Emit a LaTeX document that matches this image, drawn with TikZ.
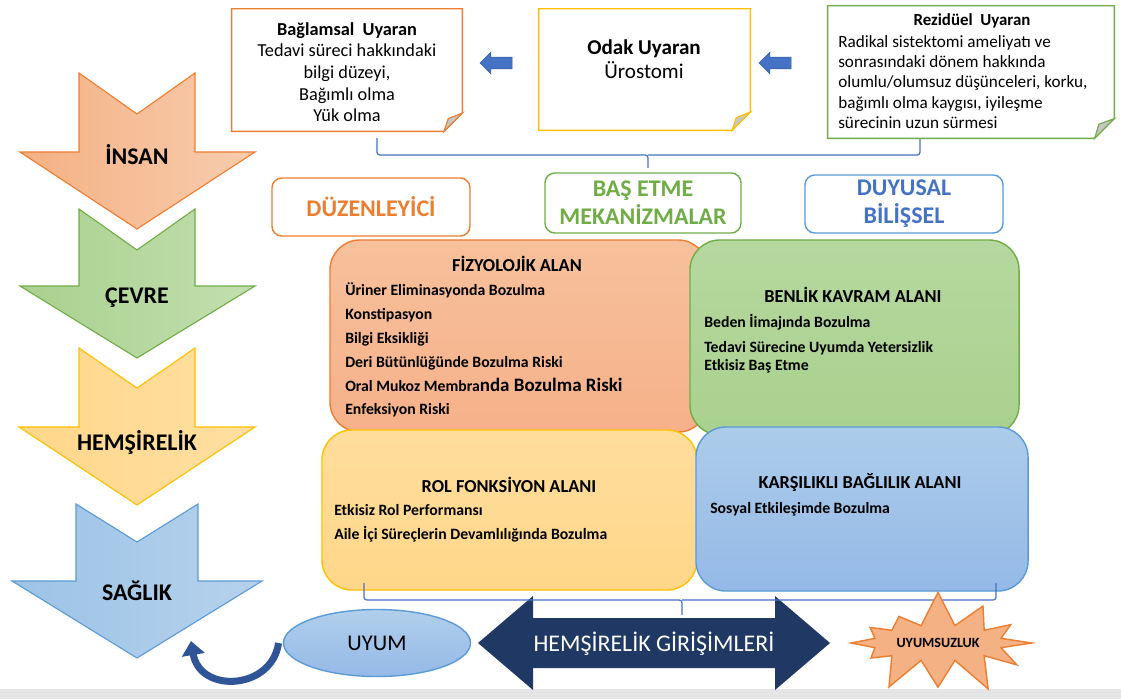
\documentclass[tikz,border=0pt]{standalone}
\usepackage{fontspec}
\setmainfont{Carlito}
\usetikzlibrary{shapes.geometric,shapes.symbols,shapes.arrows,arrows.meta}

\definecolor{orline}{HTML}{ED7D31}
\definecolor{orfill}{HTML}{F4B183}
\definecolor{grline}{HTML}{70AD47}
\definecolor{grfill}{HTML}{A9D18E}
\definecolor{yeline}{HTML}{FFC000}
\definecolor{yefill}{HTML}{FFD78A}
\definecolor{blline}{HTML}{5B9BD5}
\definecolor{blfill}{HTML}{9DC3E6}
\definecolor{navy}{HTML}{203864}
\definecolor{arrblue}{HTML}{4472C4}
\definecolor{curvblue}{HTML}{2F5597}

\begin{document}
\begin{tikzpicture}[x=0.025cm,y=-0.025cm,
  chev/.style={line width=0.8pt},
  chevtext/.style={font=\fontsize{17}{20}\selectfont\bfseries},
  notebox/.style={fill=white, inner sep=0pt},
  notetext/.style={align=center, inner sep=0pt},
  labelbox/.style={draw, fill=white, rounded corners=7pt, line width=1pt, align=center,
    font=\fontsize{17}{20}\selectfont\bfseries},
  quad/.style={rounded corners=0.75cm, line width=1pt},
  quadtitle/.style={font=\fontsize{13}{15}\selectfont\bfseries},
  quadlist/.style={anchor=west, align=left, inner sep=0pt, font=\fontsize{11.2}{17}\selectfont\bfseries},
  blockarrow/.style={single arrow, shape border rotate=180, fill=arrblue, draw=arrblue!80!black,
    inner sep=4pt, minimum height=0.8cm, single arrow head extend=3.5pt, single arrow head indent=0pt},
  brace/.style={draw=arrblue, line width=0.9pt, rounded corners=2pt}
]
\useasboundingbox (0,0) rectangle (1121,699);
\fill[white] (0,0) rectangle (1121,699);
\fill[gray!20] (0,689) rectangle (1121,699);

% left chevrons
\draw[chev, draw=orline, left color=orfill, right color=orfill!65!white]
  (79,73) -- (137,114) -- (195,73) -- (195,152) -- (255,152) -- (137,229) -- (20,152) -- (79,152) -- cycle;
\draw[chev, draw=grline, left color=grfill, right color=grfill!70!white]
  (79,209) -- (137,250) -- (195,209) -- (195,286) -- (255,286) -- (137,358) -- (20,286) -- (79,286) -- cycle;
\draw[chev, draw=yeline, left color=yefill, right color=yefill!80!white]
  (79,348) -- (137,388) -- (195,348) -- (195,427) -- (255,427) -- (137,505) -- (19,427) -- (79,427) -- cycle;
\draw[chev, draw=blline, left color=blfill, right color=blfill!75!white]
  (76,504) -- (137,542) -- (198,504) -- (198,581) -- (262,581) -- (137,658) -- (12,581) -- (76,581) -- cycle;
\node[chevtext] (insan) at (137,155) {İNSAN};
\node[chevtext] (cevre) at (137,298) {ÇEVRE};
\node[chevtext] (hemsirelik) at (137,443) {HEMŞİRELİK};
\node[chevtext] (saglik) at (137,591) {SAĞLIK};

% stimulus notes
\node[notebox, minimum width=5.75cm, minimum height=3.05cm] (baglamsal) at (347,70) {};
\draw[orline, line width=1pt] (baglamsal.north west) -- (baglamsal.north east) -- ([yshift=13pt]baglamsal.south east)
  -- ([xshift=-13pt]baglamsal.south east) -- (baglamsal.south west) -- cycle;
\filldraw[fill=gray!45, draw=orline, line width=0.8pt] ([yshift=13pt]baglamsal.south east)
  -- ([xshift=-13pt]baglamsal.south east) -- ([xshift=-10pt,yshift=9pt]baglamsal.south east) -- cycle;
\node[notetext, font=\fontsize{13}{15.4}\selectfont] (baglamsaltxt) at (347,72)
  {\textbf{Bağlamsal~~Uyaran}\\Tedavi süreci hakkındaki\\bilgi düzeyi,\\Bağımlı olma\\Yük olma};

\node[notebox, minimum width=5.275cm, minimum height=3.025cm] (odak) at (644.5,69.5) {};
\draw[yeline, line width=1pt] (odak.north west) -- (odak.north east) -- ([yshift=13pt]odak.south east)
  -- ([xshift=-13pt]odak.south east) -- (odak.south west) -- cycle;
\filldraw[fill=gray!45, draw=yeline, line width=0.8pt] ([yshift=13pt]odak.south east)
  -- ([xshift=-13pt]odak.south east) -- ([xshift=-10pt,yshift=9pt]odak.south east) -- cycle;
\node[notetext, font=\fontsize{15}{17.5}\selectfont] (odaktxt) at (644,59) {\textbf{Odak Uyaran}\\Ürostomi};

\node[notebox, minimum width=7.15cm, minimum height=3.3cm] (rezidual) at (971,72) {};
\draw[grline, line width=1pt] (rezidual.north west) -- (rezidual.north east) -- ([yshift=14pt]rezidual.south east)
  -- ([xshift=-14pt]rezidual.south east) -- (rezidual.south west) -- cycle;
\filldraw[fill=gray!45, draw=grline, line width=0.8pt] ([yshift=14pt]rezidual.south east)
  -- ([xshift=-14pt]rezidual.south east) -- ([xshift=-11pt,yshift=10pt]rezidual.south east) -- cycle;
\node[font=\fontsize{12}{14}\selectfont\bfseries, inner sep=0pt] (reziduelbaslik) at (972,21) {Rezidüel~~Uyaran};
\node[anchor=west, align=left, inner sep=0pt, font=\fontsize{12.2}{14.5}\selectfont] (reziduelmetin) at (838,82)
  {Radikal sistektomi ameliyatı ve\\sonrasındaki dönem hakkında\\olumlu/olumsuz düşünceleri, korku,\\bağımlı olma kaygısı, iyileşme\\sürecinin uzun sürmesi};

\node[blockarrow] (ok1) at (499,63) {};
\node[blockarrow] (ok2) at (778,63) {};

% top brace
\coordinate (ustsol) at (377,138);
\coordinate (ustsag) at (920,139);
\coordinate (ustorta) at (648,168);
\draw[brace] (ustsol) |- (648,155) -- (ustorta);
\draw[brace] (648,155) -| (ustsag);

% adaptation modes
\node[labelbox, draw=orline, text=orline, minimum width=4.95cm, minimum height=1.45cm] (duzenleyici) at (371,207) {DÜZENLEYİCİ};
\node[labelbox, draw=grline, text=grline, minimum width=4.9cm, minimum height=1.5cm] (basetme) at (643,203) {BAŞ ETME\\MEKANİZMALAR};
\node[labelbox, draw=blline, text=arrblue, minimum width=4.95cm, minimum height=1.45cm] (duyusal) at (904,204) {DUYUSAL\\BİLİŞSEL};

% four areas
\node[quad, draw=orline, top color=orfill!80!white, bottom color=orfill!95!red!90!white, minimum width=9.45cm, minimum height=4.8cm] (fizyolojik) at (519,336) {};
\node[quad, draw=grline, top color=grfill!85!white, bottom color=grfill, minimum width=8.225cm, minimum height=4.875cm] (benlik) at (854.5,337.5) {};
\node[quad, draw=yeline, top color=yefill!85!white, bottom color=yefill, minimum width=9.375cm, minimum height=4cm] (rol) at (509.5,510) {};
\node[quad, draw=blline, top color=blfill!85!white, bottom color=blfill!95!blue, minimum width=8.3cm, minimum height=4.1cm] (karsilikli) at (862,509) {};

\node[quadtitle] (fiztitle) at (517,264) {FİZYOLOJİK ALAN};
\node[quadlist] (fizlist) at (345,350) {Üriner Eliminasyonda Bozulma\\Konstipasyon\\Bilgi Eksikliği\\Deri Bütünlüğünde Bozulma Riski\\
  Oral Mukoz Membra{\fontsize{13.5}{17}\selectfont nda Bozulma Riski}\\Enfeksiyon Riski};
\node[quadtitle] (bentitle) at (853,295) {BENLİK KAVRAM ALANI};
\node[quadlist, font=\fontsize{11.2}{12.8}\selectfont\bfseries] (benlist) at (704,343.5) {Beden İimajında Bozulma\\[5pt]Tedavi Sürecine Uyumda Yetersizlik\\Etkisiz Baş Etme};
\node[quadtitle] (roltitle) at (509,485) {ROL FONKSİYON ALANI};
\node[quadlist] (rollist) at (334,523.5) {Etkisiz Rol Performansı\\Aile İçi Süreçlerin Devamlılığında Bozulma};
\node[quadtitle] (karstitle) at (860,483) {KARŞILIKLI BAĞLILIK ALANI};
\node[quadlist] (karslist) at (710,509) {Sosyal Etkileşimde Bozulma};

% nursing interventions
\fill[navy] (478,643) -- (533,596) -- (533,618) -- (775,618) -- (775,596) -- (830,643) -- (775,690)
  -- (775,668) -- (533,668) -- (533,690) -- cycle;
\node[text=white, font=\fontsize{17}{20}\selectfont] (girisim) at (654,644) {HEMŞİRELİK GİRİŞİMLERİ};

% bottom brace
\coordinate (altsol) at (364,583);
\coordinate (altsag) at (996,583);
\coordinate (altorta) at (682,615);
\draw[brace] (altsol) |- (682,600) -- (altorta);
\draw[brace] (682,600) -| (altsag);

\node[ellipse, draw=blline, line width=1pt, top color=blfill!80!white, bottom color=blfill!95!blue,
  minimum width=4.675cm, minimum height=1.675cm, font=\fontsize{16}{19}\selectfont] (uyum) at (377,643) {UYUM};
\node[starburst, starburst points=12, starburst point height=0.9cm, random starburst=7,
  draw=orline, line width=1pt, fill=orfill, minimum width=4cm, minimum height=2.7cm,
  font=\fontsize{10}{12}\selectfont\bfseries] (uyumsuzluk) at (938,643) {UYUMSUZLUK};

\coordinate (donus) at (191,641);
\draw[curvblue, line width=5pt, -{Triangle[length=10pt,width=16pt]}]
  ([xshift=-3pt]uyum.west) .. controls (272,690) and (200,694) .. (donus);
\end{tikzpicture}
\end{document}
